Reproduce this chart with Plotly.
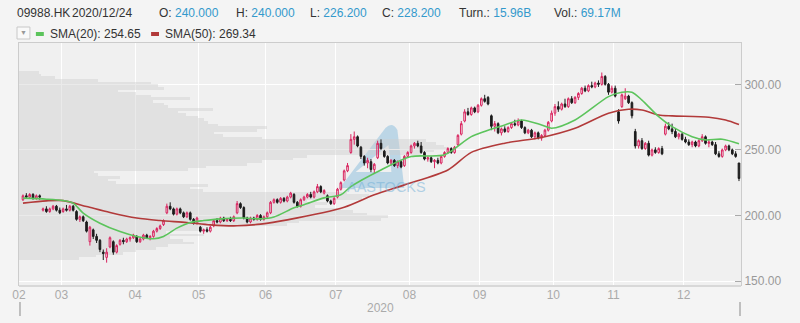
import plotly.graph_objects as go

# ---------------- data ----------------
months = ['02', '03', '04', '05', '06', '07', '08', '09', '10', '11', '12']
month_days = [12, 22, 19, 20, 21, 22, 21, 22, 18, 21, 17]   # trading days shown per month
year_label = '2020'

O = [212, 215, 214, 216, 213, 215, 204, 205, 203, 205, 207, 204,
     203, 205, 204, 207, 203, 197, 199, 195, 180, 189, 184, 181, 172, 168, 176, 180, 172, 178, 181, 180, 182, 183,
     184, 180, 182, 185, 183, 184, 188, 190, 193, 202, 207, 205, 201, 205, 202, 199, 202, 197, 194,
     191, 188, 189, 188, 192, 196, 195, 198, 196, 197, 196, 202, 209, 206, 198, 195, 198, 197, 200, 197,
     199, 202, 210, 212, 210, 213, 211, 214, 216, 210, 207, 212, 214, 216, 214, 218, 222, 217, 215, 211, 209,
     214, 220, 227, 234, 248, 258, 260, 252, 245, 240, 241, 235, 244, 255, 249, 245, 240, 242, 238, 241, 238, 245,
     248, 253, 255, 253, 248, 243, 244, 241, 242, 240, 245, 248, 251, 248, 254, 262, 272, 279, 277, 282, 279,
     284, 289, 290, 276, 268, 270, 263, 266, 264, 267, 270, 269, 272, 267, 263, 265, 260, 263, 259, 261, 265, 272,
     278, 283, 281, 285, 283, 289, 286, 290, 293, 297, 295, 299, 298, 301, 300, 306, 300, 294,
     297, 279, 283, 289, 291, 286, 264, 253, 257, 251, 255, 246, 250, 248, 251, 262, 268, 266, 264, 260, 262,
     258, 256, 254, 256, 253, 257, 260, 255, 256, 254, 247, 245, 250, 253, 250, 247, 240]
H = [216, 217, 217, 217, 216, 216, 206, 207, 206, 208, 208, 206,
     206, 208, 208, 208, 204, 200, 200, 196, 192, 190, 186, 182, 174, 175, 184, 181, 178, 182, 183, 183, 184, 186,
     185, 183, 186, 186, 185, 189, 191, 193, 197, 209, 210, 206, 206, 206, 203, 203, 203, 198, 199,
     192, 190, 191, 192, 197, 198, 199, 199, 198, 199, 200, 211, 210, 207, 199, 199, 199, 201, 201, 200,
     203, 211, 213, 213, 214, 214, 215, 218, 217, 211, 213, 215, 217, 218, 219, 224, 223, 220, 216, 212, 214,
     221, 226, 235, 240, 262, 264, 261, 253, 246, 244, 243, 240, 257, 258, 250, 246, 243, 243, 242, 242, 246, 249,
     254, 256, 257, 256, 249, 245, 245, 243, 244, 246, 249, 252, 252, 253, 262, 272, 281, 282, 283, 283, 285,
     290, 292, 291, 277, 272, 271, 267, 268, 268, 271, 273, 274, 273, 268, 266, 266, 264, 264, 262, 266, 272, 280,
     285, 287, 286, 289, 290, 291, 291, 294, 298, 299, 300, 302, 302, 303, 309, 307, 301, 299,
     299, 281, 293, 297, 292, 287, 266, 258, 259, 256, 257, 251, 252, 252, 253, 270, 271, 270, 266, 263, 263,
     260, 258, 257, 257, 258, 262, 261, 258, 257, 256, 249, 251, 254, 254, 251, 249, 240]
L = [211, 213, 213, 212, 212, 212, 203, 202, 202, 204, 203, 201,
     202, 203, 203, 203, 196, 195, 195, 187, 177, 182, 179, 172, 166, 164, 175, 170, 171, 177, 178, 179, 180, 182,
     179, 179, 181, 182, 181, 183, 187, 189, 192, 201, 204, 200, 200, 201, 198, 198, 196, 193, 193,
     187, 186, 187, 187, 191, 194, 194, 195, 195, 195, 195, 201, 205, 197, 194, 194, 196, 196, 196, 196,
     198, 201, 209, 209, 209, 210, 210, 213, 209, 206, 206, 211, 213, 213, 213, 217, 217, 216, 210, 208, 208,
     213, 219, 226, 233, 247, 254, 252, 243, 238, 236, 233, 232, 243, 250, 244, 239, 238, 237, 236, 236, 237, 244,
     247, 251, 252, 247, 242, 241, 240, 236, 239, 239, 244, 247, 247, 247, 253, 261, 271, 276, 276, 278, 278,
     283, 286, 284, 265, 264, 262, 261, 263, 263, 266, 268, 268, 266, 262, 262, 259, 258, 258, 257, 260, 264, 271,
     276, 279, 280, 282, 282, 285, 285, 288, 292, 294, 294, 297, 297, 298, 299, 299, 292, 293,
     290, 270, 282, 288, 285, 274, 251, 251, 250, 250, 245, 245, 247, 247, 246, 261, 265, 262, 259, 258, 257,
     255, 253, 252, 252, 252, 256, 254, 252, 253, 246, 244, 244, 249, 249, 246, 244, 226.2]
C = [215, 214, 216, 213, 215, 214, 205, 203, 205, 207, 204, 202,
     205, 204, 207, 204, 197, 199, 196, 188, 191, 184, 181, 174, 171, 172, 183, 172, 177, 181, 180, 182, 183, 185,
     180, 182, 185, 183, 184, 188, 190, 192, 196, 207, 205, 201, 205, 202, 199, 202, 197, 194, 198,
     188, 189, 188, 191, 196, 195, 198, 196, 197, 196, 199, 209, 206, 198, 195, 198, 197, 200, 197, 199,
     202, 210, 212, 210, 213, 211, 214, 217, 210, 207, 212, 214, 216, 214, 218, 222, 218, 219, 211, 209, 213,
     220, 225, 234, 238, 258, 260, 253, 245, 240, 242, 235, 239, 255, 251, 245, 240, 242, 238, 241, 237, 245, 248,
     253, 255, 253, 248, 243, 244, 241, 242, 240, 245, 248, 251, 248, 252, 261, 270, 279, 277, 282, 279, 284,
     289, 287, 285, 268, 270, 263, 266, 264, 267, 270, 269, 272, 267, 263, 265, 260, 263, 259, 261, 265, 271, 278,
     283, 281, 285, 283, 289, 286, 290, 293, 297, 295, 299, 298, 301, 300, 306, 300, 294, 297,
     291, 272, 292, 291, 286, 276, 253, 257, 251, 255, 246, 250, 248, 251, 247, 268, 266, 264, 260, 262, 258,
     256, 254, 256, 253, 257, 260, 255, 256, 254, 247, 245, 250, 253, 250, 247, 245, 228.2]

# moving averages (trading-day index, value)
sma20_idx = [0, 7, 12, 15, 18, 23, 29, 34, 39, 42, 46, 50, 54, 59, 66, 71, 75, 81, 84, 90, 95, 98, 107,
             116, 126, 134, 144, 149, 155, 158, 165, 175, 179, 182, 185, 190, 194, 200, 204, 209, 214]
sma20_val = [213.2, 212.4, 211.3, 209.4, 201.8, 194.1, 187.7, 184.0, 182.2, 184.0, 190.3, 194.6, 196.1,
             197.4, 198.0, 197.4, 198.8, 205.8, 208.1, 213.4, 215.7, 222.0, 234.7, 244.9, 246.2, 260.1,
             269.0, 272.8, 269.0, 266.5, 272.8, 290.6, 293.9, 293.9, 288.0, 275.3, 267.7, 260.1, 257.6,
             258.1, 254.65]
sma50_idx = [0, 7, 12, 19, 26, 34, 41, 49, 56, 64, 71, 79, 96, 105, 114, 127, 134, 144, 155, 165, 175,
             181, 185, 190, 194, 205, 210, 214]
sma50_val = [209.4, 211.1, 211.3, 206.8, 202.2, 198.0, 196.1, 194.6, 192.8, 192.1, 193.4, 196.6, 206.2,
             215.7, 223.3, 234.7, 248.1, 255.1, 259.5, 266.5, 277.9, 281.0, 280.4, 276.6, 275.9, 274.9,
             272.8, 269.34]

# volume-at-price profile (price bin lower edges, relative volume)
prof_lo = [166, 168, 170, 172, 174, 176, 178, 180, 182, 184, 186, 188, 190, 192, 194, 196, 198, 200,
           202, 204, 206, 208, 210, 212, 214, 216, 218, 220, 222, 224, 226, 228, 230, 232, 234, 236,
           238, 240, 242, 244, 246, 248, 250, 252, 254, 256, 258, 260, 262, 264, 266, 268, 270, 272,
           274, 276, 278, 280, 282, 284, 286, 288, 290, 292, 294, 296, 298, 300, 302, 304, 306, 308]
prof_vol = [60, 78, 105, 118, 138, 150, 176, 165, 152, 186, 148, 192, 185, 270, 282, 365, 372, 350,
            336, 320, 298, 310, 290, 345, 352, 330, 185, 172, 190, 98, 90, 102, 80, 76, 170, 188,
            230, 245, 276, 290, 405, 418, 432, 428, 420, 410, 245, 205, 196, 240, 250, 200, 190, 186,
            180, 168, 160, 195, 150, 146, 135, 172, 133, 118, 100, 146, 140, 133, 80, 36, 22, 20]

ticker = '09988.HK'
last_date = '2020/12/24'
quote_labels = ['O:', 'H:', 'L:', 'C:', 'Turn.:', 'Vol.:']
quote_values = ['240.000', '240.000', '226.200', '228.200', '15.96B', '69.17M']
sma_labels = ['SMA(20): 254.65', 'SMA(50): 269.34']
y_ticks = [150, 200, 250, 300]

# ---------------- styling / layout ----------------
W, HGT = 800, 323
ML, MR, MT, MB = 14, 59, 43, 37
PW, PH = W - ML - MR, HGT - MT - MB
FONT = 'Liberation Sans, Arial, sans-serif'
PINK = '#d9245f'
DOWN = '#1c1c1c'
GREEN = '#5cc45c'
RED = '#b23a3a'
BLUE = '#3399cc'


def px(x):
    return (x - ML) / PW


def py(y):
    return (MT + PH - y) / PH


xs = list(range(len(C)))
x_lo, x_hi = -1.19, len(C) - 0.4

# month boundaries
bounds = []
acc = 0
for d in month_days[:-1]:
    acc += d
    bounds.append(acc - 0.5)
tickvals = [x_lo] + bounds
ticktext = months

bin_w = prof_lo[1] - prof_lo[0]

fig = go.Figure()
fig.add_trace(go.Bar(
    orientation='h', y=[v + bin_w / 2 for v in prof_lo], x=prof_vol, width=bin_w,
    xaxis='x', yaxis='y', marker=dict(color='rgba(205,205,205,0.42)', line=dict(width=0)),
    hoverinfo='skip', showlegend=False))

fig.add_trace(go.Candlestick(
    x=xs, open=O, high=H, low=L, close=C, xaxis='x2', yaxis='y',
    increasing=dict(line=dict(color=PINK, width=1), fillcolor='rgba(0,0,0,0)'),
    decreasing=dict(line=dict(color=DOWN, width=1), fillcolor=DOWN),
    whiskerwidth=0, showlegend=False))

fig.add_trace(go.Scatter(x=sma50_idx, y=sma50_val, mode='lines', xaxis='x2', yaxis='y',
                         line=dict(color=RED, width=1.6, shape='spline', smoothing=0.8),
                         showlegend=False, hoverinfo='skip'))
fig.add_trace(go.Scatter(x=sma20_idx, y=sma20_val, mode='lines', xaxis='x2', yaxis='y',
                         line=dict(color=GREEN, width=1.6, shape='spline', smoothing=0.8),
                         showlegend=False, hoverinfo='skip'))

shapes = []
# watermark logo
logo = (f"M {px(337)} {py(188)} L {px(383)} {py(128)} Q {px(390)} {py(121)} {px(395)} {py(130)} "
        f"L {px(402)} {py(188)} Z "
        f"M {px(353)} {py(172)} L {px(389)} {py(172)} L {px(386)} {py(145)} Z")
shapes.append(dict(type='path', xref='paper', yref='paper', path=logo, layer='below',
                   fillcolor='rgba(110,175,215,0.4)', line=dict(width=0)))
# bottom axis band
shapes.append(dict(type='line', xref='paper', yref='paper', x0=0, x1=1, y0=0, y1=0,
                   line=dict(color='#d8d8d8', width=2)))
# dropdown box
shapes.append(dict(type='rect', xref='paper', yref='paper', x0=px(12), x1=px(25), y0=py(39), y1=py(27),
                   fillcolor='#f9f9f9', line=dict(color='#c8c8c8', width=1)))
# legend colour chips
shapes.append(dict(type='rect', xref='paper', yref='paper', x0=px(31), x1=px(39), y0=py(36), y1=py(32),
                   fillcolor=GREEN, line=dict(width=0)))
shapes.append(dict(type='rect', xref='paper', yref='paper', x0=px(147), x1=px(155), y0=py(36), y1=py(32),
                   fillcolor=RED, line=dict(width=0)))
# navigator handles
for hx in (15, 740):
    shapes.append(dict(type='line', xref='paper', yref='paper', x0=px(hx), x1=px(hx), y0=py(302), y1=py(316),
                       line=dict(color='#8a8a8a', width=1)))

ann = []


def text(x, y, s, color='#333333', size=12, anchor='left'):
    ann.append(dict(xref='paper', yref='paper', x=px(x), y=py(y), text=s, showarrow=False,
                    xanchor=anchor, yanchor='middle', font=dict(family=FONT, size=size, color=color)))


text(10, 13, ticker)
text(65, 13, last_date)
qx = [153, 230, 305, 377, 455, 551]
for xx, lab, val in zip(qx, quote_labels, quote_values):
    text(xx, 13, f"{lab} <span style='color:{BLUE}'>{val}</span>")
text(43, 34, sma_labels[0])
text(159, 34, sma_labels[1])
text(18.5, 33, '▼', color='#999999', size=7, anchor='center')
text(378, 308, year_label, color='#aaaaaa', anchor='center')
text(384, 187, 'AASTOCKS', color='rgba(110,175,215,0.5)', size=14.5, anchor='center')

fig.update_layout(
    width=W, height=HGT, margin=dict(l=ML, r=MR, t=MT, b=MB, pad=0),
    paper_bgcolor='#f4f4f4', plot_bgcolor='#f0f0f0',
    font=dict(family=FONT, size=12, color='#999999'),
    showlegend=False, bargap=0,
    xaxis=dict(range=[0, PW], side='top', showline=True, linecolor='#cccccc', linewidth=1,
               showticklabels=False, ticks='', showgrid=False, zeroline=False, fixedrange=True,
               rangeslider=dict(visible=False)),
    xaxis2=dict(overlaying='x', side='bottom', range=[x_lo, x_hi], tickmode='array',
                tickvals=tickvals, ticktext=ticktext, showgrid=True, gridcolor='#ffffff', gridwidth=1,
                showline=False, ticks='', zeroline=False,
                tickfont=dict(family=FONT, size=12, color='#aaaaaa'),
                rangeslider=dict(visible=False)),
    yaxis=dict(side='right', range=[146.19, 331.5], tickmode='array', tickvals=y_ticks,
               tickformat='.2f', ticks='inside', ticklen=6, tickcolor='#aaaaaa',
               showline=True, linecolor='#cccccc', mirror=True, gridcolor='#ffffff', gridwidth=1,
               zeroline=False, tickfont=dict(family=FONT, size=12, color='#999999')),
    shapes=shapes, annotations=ann,
)

fig.write_html('out.html')
